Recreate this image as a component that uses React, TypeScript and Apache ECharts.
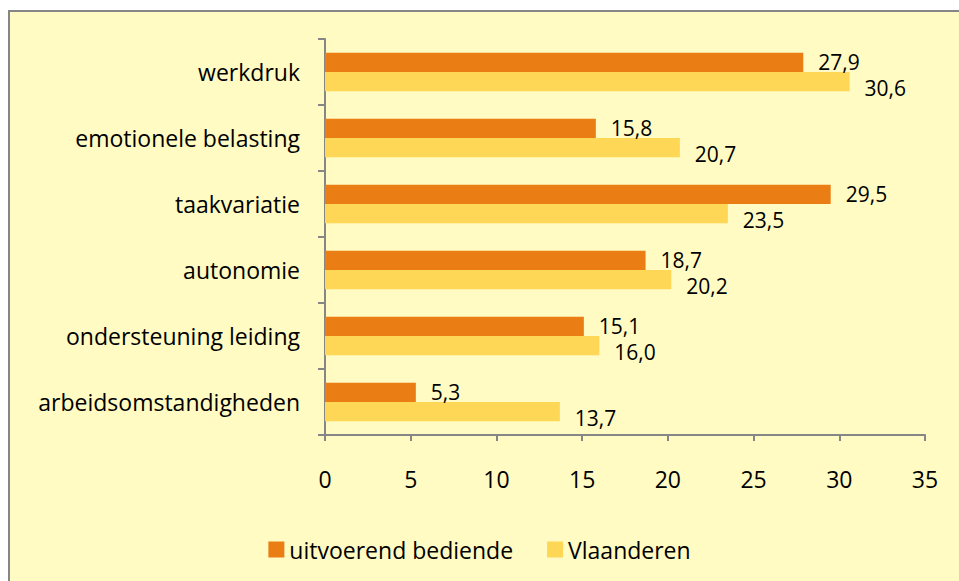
import React, { useEffect, useRef } from "react";
import * as echarts from "echarts";

const categories = [
  "arbeidsomstandigheden",
  "ondersteuning leiding",
  "autonomie",
  "taakvariatie",
  "emotionele belasting",
  "werkdruk",
];
const uitvoerend = [5.3, 15.1, 18.7, 29.5, 15.8, 27.9];
const vlaanderen = [13.7, 16.0, 20.2, 23.5, 20.7, 30.6];
const seriesNames = ["uitvoerend bediende", "Vlaanderen"];

const FONT = "Open Sans";
const FS = 23;

export default function App() {
  const ref = useRef<HTMLDivElement>(null);
  useEffect(() => {
    const chart = echarts.init(ref.current!, undefined, { renderer: "svg" });
    const fmt = (p: any) => Number(p.value).toFixed(1).replace(".", ",");
    const labelCfg = (dy: number) => ({
      show: true,
      position: "right" as const,
      distance: 15,
      offset: [0, dy],
      color: "#000",
      fontSize: 21,
      lineHeight: 17,
      fontFamily: FONT,
      formatter: fmt,
    });
    chart.setOption({
      animation: false,
      backgroundColor: "#ffffff",
      graphic: [
        {
          type: "rect",
          shape: { x: 9, y: 11, width: 970, height: 590 },
          style: { fill: "#FFFBC2", stroke: "#868686", lineWidth: 2 },
          z: -10,
          silent: true,
        },
      ],
      grid: { left: 325, right: 34, top: 39, bottom: 146, containLabel: false },
      xAxis: {
        type: "value",
        min: 0,
        max: 35,
        interval: 5,
        axisLine: { show: true, lineStyle: { color: "#868686", width: 2 } },
        axisTick: { show: true, length: 6, lineStyle: { color: "#868686", width: 2 } },
        splitLine: { show: false },
        axisLabel: { color: "#000", fontSize: FS, fontFamily: FONT, margin: 32 },
      },
      yAxis: {
        type: "category",
        data: categories,
        axisLine: { show: true, lineStyle: { color: "#868686", width: 2 } },
        axisTick: { show: true, length: 7, lineStyle: { color: "#868686", width: 2 } },
        axisLabel: { color: "#000", fontSize: FS, fontFamily: FONT, margin: 25, padding: [4, 0, 0, 0] },
      },
      legend: {
        data: seriesNames,
        top: 533,
        left: "center",
        itemWidth: 16,
        itemHeight: 16,
        itemGap: 34,
        icon: "rect",
        textStyle: { color: "#000", fontSize: FS, fontFamily: FONT },
      },
      series: [
        {
          name: seriesNames[0],
          type: "bar",
          data: uitvoerend,
          itemStyle: { color: "#EA7E14" },
          barGap: "0%",
          barCategoryGap: "42%",
          label: labelCfg(0),
        },
        {
          name: seriesNames[1],
          type: "bar",
          data: vlaanderen,
          itemStyle: { color: "#FFD757" },
          barGap: "0%",
          barCategoryGap: "42%",
          label: labelCfg(6),
        },
      ],
    });
    return () => chart.dispose();
  }, []);
  return (
    <div
      ref={ref}
      style={{ position: "fixed", left: 0, top: 0, width: 959, height: 581 }}
    />
  );
}
